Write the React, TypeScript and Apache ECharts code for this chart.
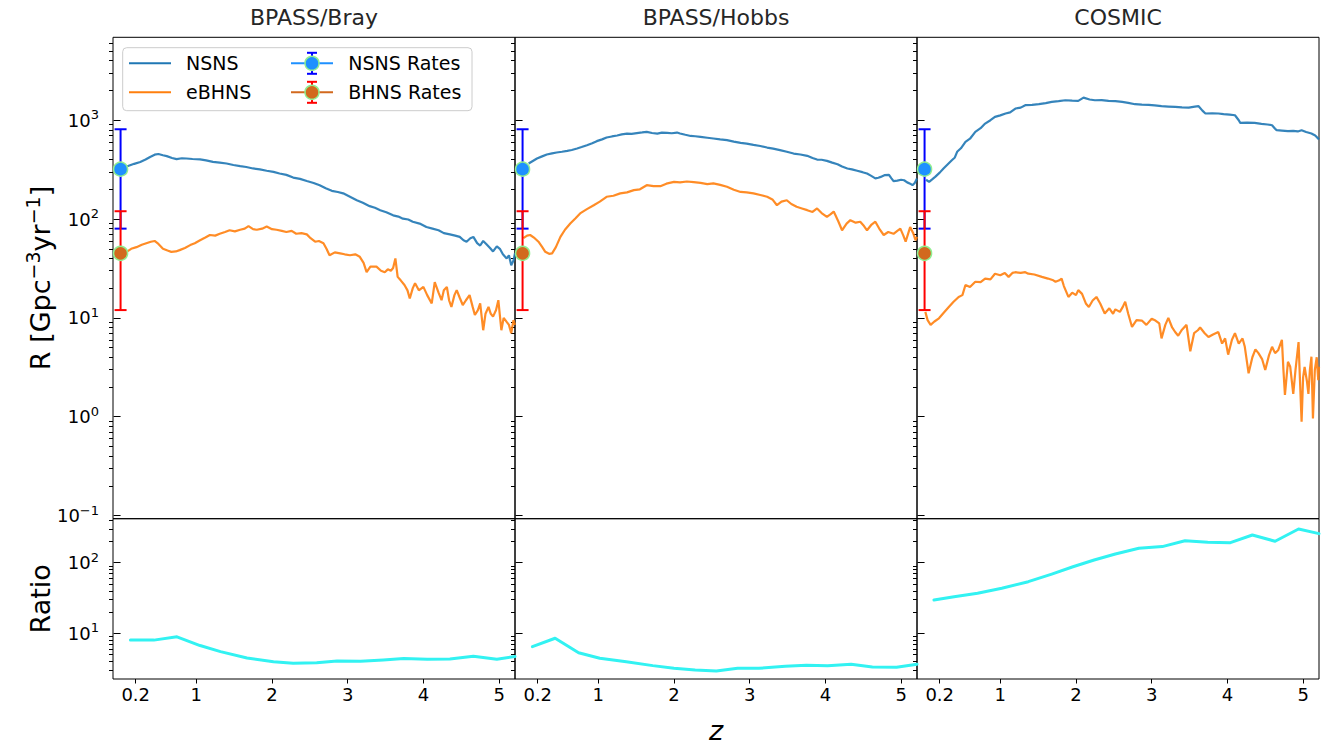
import React, { useEffect, useRef } from 'react';
import * as echarts from 'echarts';

// ---------- axis settings / tick labels ----------
const panelTitles = ['BPASS/Bray', 'BPASS/Hobbs', 'COSMIC'];
const Z_MIN = -0.1;
const Z_MAX = 5.21;
const RATE_MIN = 0.093;
const RATE_MAX = 6900;
const RATIO_MIN = 2.25;
const RATIO_MAX = 420;
const xTickValues = [0.2, 1, 2, 3, 4, 5];
const rateMajorTicks = [0.1, 1, 10, 100, 1000];
const rateMinorTicks = [0.2, 0.3, 0.4, 0.5, 0.6, 0.7, 0.8, 0.9, 2, 3, 4, 5, 6, 7, 8, 9, 20, 30, 40, 50, 60, 70, 80, 90, 200, 300, 400, 500, 600, 700, 800, 900, 2000, 3000, 4000, 5000, 6000];
const ratioMajorTicks = [10, 100];
const ratioMinorTicks = [3, 4, 5, 6, 7, 8, 9, 20, 30, 40, 50, 60, 70, 80, 90, 200, 300, 400];

// ---------- observed rates [z, value, low, high] ----------
const nsnsRate = [0, 320, 80, 810];
const bhnsRate = [0, 45, 12, 120];

// ---------- BPASS/Bray ----------
const brayNSNS: number[][] = [
  [0.08, 340], [0.18, 362], [0.26, 378], [0.33, 400], [0.39, 425], [0.45, 448], [0.50, 455], [0.56, 442], [0.61, 433],
  [0.68, 415], [0.74, 404], [0.81, 412], [0.87, 410], [0.95, 405], [1.05, 401], [1.13, 392], [1.22, 379], [1.31, 373],
  [1.40, 365], [1.49, 352], [1.58, 343], [1.66, 336], [1.75, 325], [1.84, 318], [1.93, 308], [2.02, 300], [2.10, 289],
  [2.19, 280], [2.28, 263], [2.37, 255], [2.46, 243], [2.55, 232], [2.63, 220], [2.71, 205], [2.79, 193], [2.87, 188],
  [2.94, 182], [3.03, 168], [3.12, 155], [3.20, 146], [3.29, 135], [3.36, 130], [3.43, 123], [3.51, 117], [3.60, 109],
  [3.67, 106], [3.73, 101], [3.80, 99], [3.86, 94], [3.95, 90], [4.04, 83], [4.12, 80], [4.20, 77], [4.27, 72],
  [4.35, 70], [4.42, 68], [4.48, 66], [4.53, 61], [4.57, 59], [4.62, 64], [4.66, 66], [4.71, 57], [4.75, 54],
  [4.79, 60], [4.83, 56], [4.88, 51], [4.92, 47], [4.97, 53], [5.01, 50], [5.05, 44], [5.10, 40], [5.13, 43],
  [5.16, 34], [5.19, 38], [5.21, 45],
];
const brayBHNS: number[][] = [
  [0.08, 46.6], [0.14, 50], [0.21, 52], [0.28, 55], [0.34, 57], [0.40, 59], [0.45, 60], [0.50, 56], [0.56, 50],
  [0.62, 48], [0.67, 46.6], [0.73, 47], [0.78, 48.5], [0.85, 51], [0.92, 54.5], [0.98, 57], [1.05, 61], [1.12, 65],
  [1.18, 69], [1.25, 68], [1.31, 71], [1.38, 74], [1.44, 77], [1.51, 75], [1.58, 78], [1.64, 80], [1.69, 85],
  [1.75, 79], [1.80, 78], [1.87, 80], [1.93, 84], [2.00, 79], [2.06, 78], [2.13, 76], [2.19, 74], [2.26, 76],
  [2.32, 71], [2.39, 72], [2.46, 70], [2.51, 64], [2.57, 59], [2.62, 60], [2.68, 57], [2.72, 50], [2.76, 43],
  [2.83, 46], [2.90, 45], [2.96, 44], [3.03, 43], [3.10, 44], [3.16, 41.5], [3.21, 36], [3.25, 29], [3.30, 33],
  [3.38, 33], [3.44, 30], [3.49, 29], [3.53, 31], [3.57, 30], [3.60, 32], [3.63, 40], [3.66, 26], [3.70, 24],
  [3.75, 21.5], [3.79, 19], [3.82, 15.7], [3.86, 20], [3.89, 22.4], [3.94, 19], [4.00, 20.6], [4.05, 17], [4.11, 14],
  [4.15, 23], [4.20, 18], [4.24, 15.1], [4.27, 19], [4.31, 20.6], [4.34, 15], [4.37, 12.9], [4.41, 17], [4.44, 19.1],
  [4.48, 16], [4.52, 13.5], [4.56, 15], [4.61, 17], [4.65, 13], [4.68, 10.7], [4.72, 12], [4.75, 14], [4.79, 7.5],
  [4.82, 11], [4.86, 12.9], [4.89, 11], [4.92, 10.3], [4.96, 12], [4.99, 15.1], [5.03, 7.5], [5.06, 10], [5.10, 9.1],
  [5.13, 8.5], [5.16, 7], [5.19, 9.5], [5.21, 8.5],
];
const brayRatio: number[][] = [
  [0.13, 8.0], [0.44, 8.0], [0.745, 8.9], [1.05, 6.7], [1.32, 5.5], [1.67, 4.47], [2.02, 3.96], [2.28, 3.76],
  [2.59, 3.83], [2.86, 4.05], [3.17, 4.0], [3.47, 4.19], [3.74, 4.38], [4.05, 4.29], [4.35, 4.33], [4.66, 4.72],
  [4.97, 4.29], [5.21, 4.7],
];

// ---------- BPASS/Hobbs ----------
const hobbsNSNS: number[][] = [
  [0.08, 365], [0.13, 385], [0.19, 410], [0.25, 428], [0.32, 450], [0.39, 462], [0.45, 471], [0.52, 480], [0.59, 490],
  [0.65, 500], [0.72, 517], [0.78, 535], [0.85, 559], [0.92, 585], [0.98, 614], [1.05, 640], [1.11, 668], [1.18, 685],
  [1.25, 700], [1.31, 718], [1.38, 733], [1.44, 728], [1.51, 740], [1.58, 752], [1.64, 763], [1.71, 742], [1.78, 733],
  [1.84, 748], [1.91, 745], [1.97, 738], [2.04, 750], [2.08, 733], [2.15, 712], [2.22, 693], [2.28, 688], [2.35, 678],
  [2.44, 665], [2.52, 653], [2.61, 640], [2.70, 628], [2.79, 608], [2.88, 590], [2.96, 580], [3.05, 563], [3.14, 548],
  [3.23, 529], [3.31, 515], [3.40, 498], [3.49, 480], [3.58, 460], [3.67, 450], [3.76, 436], [3.83, 415], [3.89, 400],
  [3.95, 398], [4.02, 388], [4.09, 372], [4.16, 359], [4.22, 340], [4.29, 325], [4.35, 318], [4.42, 308], [4.49, 298],
  [4.55, 289], [4.60, 275], [4.66, 258], [4.70, 262], [4.73, 267], [4.78, 278], [4.84, 280], [4.87, 260], [4.90, 242],
  [4.95, 245], [5.00, 250], [5.04, 247], [5.08, 235], [5.12, 228], [5.15, 220], [5.18, 232], [5.21, 257],
];
const hobbsBHNS: number[][] = [
  [0.01, 64], [0.06, 68], [0.10, 69], [0.16, 64], [0.21, 59], [0.26, 52], [0.30, 46.6], [0.35, 44.5], [0.39, 45],
  [0.44, 52], [0.50, 66], [0.56, 78], [0.63, 90], [0.70, 102], [0.76, 114], [0.85, 126], [0.94, 138], [1.02, 150],
  [1.11, 168], [1.20, 172], [1.29, 182], [1.38, 186], [1.47, 196], [1.55, 200], [1.64, 220], [1.73, 215], [1.82, 215],
  [1.90, 228], [2.00, 238], [2.08, 235], [2.17, 240], [2.26, 236], [2.35, 232], [2.44, 226], [2.52, 230], [2.61, 222],
  [2.70, 212], [2.79, 198], [2.88, 188], [2.96, 186], [3.05, 182], [3.14, 175], [3.23, 168], [3.30, 158], [3.36, 138],
  [3.42, 150], [3.49, 155], [3.55, 142], [3.62, 133], [3.69, 128], [3.76, 123], [3.83, 118], [3.89, 128], [3.95, 115],
  [4.02, 105], [4.07, 112], [4.11, 119], [4.17, 95], [4.22, 77], [4.28, 90], [4.33, 97.5], [4.40, 92], [4.46, 94],
  [4.51, 85], [4.55, 77], [4.61, 88], [4.66, 94], [4.72, 78], [4.77, 69], [4.83, 74], [4.90, 71], [4.95, 76],
  [4.99, 80], [5.03, 68], [5.06, 59], [5.09, 70], [5.12, 83], [5.16, 72], [5.19, 61], [5.21, 66],
];
const hobbsRatio: number[][] = [
  [0.13, 6.46], [0.43, 8.5], [0.74, 5.3], [1.02, 4.43], [1.37, 3.96], [1.72, 3.48], [2.0, 3.19], [2.28, 3.02],
  [2.56, 2.92], [2.84, 3.19], [3.12, 3.19], [3.47, 3.41], [3.75, 3.52], [4.03, 3.48], [4.34, 3.64], [4.62, 3.33],
  [4.94, 3.3], [5.21, 3.65],
];

// ---------- COSMIC ----------
const cosmicNSNS: number[][] = [
  [0.02, 250], [0.06, 238], [0.10, 252], [0.14, 267], [0.20, 295], [0.25, 325], [0.30, 355], [0.36, 394], [0.40, 420],
  [0.43, 479], [0.48, 520], [0.54, 604], [0.60, 650], [0.67, 763], [0.74, 830], [0.80, 925], [0.87, 1000], [0.93, 1081],
  [1.00, 1120], [1.07, 1169], [1.13, 1200], [1.20, 1313], [1.27, 1340], [1.33, 1418], [1.42, 1430], [1.51, 1452],
  [1.60, 1490], [1.68, 1531], [1.77, 1560], [1.86, 1592], [1.95, 1580], [2.03, 1570], [2.10, 1694], [2.18, 1620],
  [2.25, 1592], [2.34, 1600], [2.43, 1570], [2.52, 1560], [2.61, 1531], [2.69, 1500], [2.78, 1452], [2.87, 1440],
  [2.96, 1430], [3.04, 1410], [3.13, 1386], [3.22, 1375], [3.31, 1364], [3.40, 1350], [3.49, 1343], [3.57, 1370],
  [3.62, 1386], [3.67, 1250], [3.71, 1169], [3.80, 1175], [3.88, 1169], [3.95, 1150], [4.03, 1140], [4.10, 1123],
  [4.15, 1000], [4.17, 940], [4.26, 945], [4.36, 940], [4.45, 920], [4.53, 905], [4.59, 890], [4.63, 820], [4.65, 793],
  [4.72, 785], [4.80, 774], [4.87, 780], [4.93, 770], [4.98, 793], [5.04, 760], [5.11, 733], [5.16, 700], [5.21, 640],
];
const cosmicBHNS: number[][] = [
  [0.01, 11.5], [0.04, 9.5], [0.08, 8.5], [0.13, 9.2], [0.19, 9.9], [0.25, 11.2], [0.32, 12.9], [0.38, 14.5], [0.45, 16.3],
  [0.50, 17], [0.54, 21.5], [0.60, 20.5], [0.67, 23.2], [0.74, 23], [0.80, 25], [0.87, 24.5], [0.93, 28], [1.00, 27],
  [1.06, 28.5], [1.11, 26], [1.16, 28.5], [1.20, 29], [1.27, 28.5], [1.33, 29], [1.37, 28], [1.45, 27.5], [1.55, 26],
  [1.63, 25], [1.70, 24], [1.73, 23.2], [1.78, 24], [1.81, 25], [1.84, 21], [1.90, 16.3], [1.95, 18], [2.00, 17],
  [2.03, 19.1], [2.08, 17.5], [2.13, 14], [2.17, 12.9], [2.22, 15], [2.27, 16.3], [2.32, 14], [2.38, 11.1], [2.44, 12.5],
  [2.49, 11], [2.52, 12.2], [2.58, 11.5], [2.62, 13], [2.65, 14.6], [2.69, 11], [2.74, 8.1], [2.80, 9.5], [2.87, 9.4],
  [2.93, 8.5], [3.00, 9.8], [3.05, 9.4], [3.10, 8.8], [3.13, 6.2], [3.18, 8.5], [3.22, 10], [3.27, 8], [3.31, 7.2],
  [3.35, 6.6], [3.40, 7.6], [3.46, 8.5], [3.51, 4.6], [3.56, 7], [3.61, 7.5], [3.64, 8], [3.70, 7], [3.75, 6.4],
  [3.81, 6.8], [3.88, 7.2], [3.93, 5.5], [3.97, 6.2], [4.01, 4.25], [4.06, 6], [4.10, 7], [4.15, 5.5], [4.20, 6.2],
  [4.23, 5.1], [4.28, 2.75], [4.33, 4], [4.37, 4.8], [4.41, 4.4], [4.46, 3.8], [4.50, 2.97], [4.55, 4.2], [4.59, 5.1],
  [4.63, 4.4], [4.67, 4.7], [4.72, 6], [4.74, 3], [4.76, 1.66], [4.80, 3.6], [4.83, 3.2], [4.87, 1.7], [4.90, 3],
  [4.94, 5.7], [4.96, 2.2], [4.98, 0.89], [5.00, 2.5], [5.02, 3.2], [5.05, 2.3], [5.07, 1.7], [5.09, 3], [5.11, 4.05],
  [5.13, 0.96], [5.155, 2.97], [5.18, 4], [5.20, 2.35], [5.21, 3.2],
];
const cosmicRatio: number[][] = [
  [0.124, 29.6], [0.39, 33], [0.70, 36.8], [1.02, 43.4], [1.37, 53.8], [1.68, 69], [1.96, 87.7], [2.24, 109],
  [2.52, 133], [2.83, 160], [3.14, 169], [3.44, 205], [3.74, 195], [4.04, 192], [4.33, 247], [4.63, 201],
  [4.94, 300], [5.21, 258],
];

const panelNSNS = [brayNSNS, hobbsNSNS, cosmicNSNS];
const panelBHNS = [brayBHNS, hobbsBHNS, cosmicBHNS];
const panelRatio = [brayRatio, hobbsRatio, cosmicRatio];

// ---------- styling ----------
const FONT = '"DejaVu Sans", "Liberation Sans", sans-serif';
const C_NSNS = '#1f77b4';
const C_BHNS = '#ff7f0e';
const C_RATIO = 'rgb(50,242,242)';
const C_NSNS_MARK = '#1e90ff';
const C_BHNS_MARK = '#d2691e';
const C_EDGE = '#90ee90';

const LEFTS = [113, 515, 917];
const PANEL_W = 402;
const TOP = 37.3;
const MID = 518.7;
const BOT = 679;

const MINUS = '\u2212';
const powLabel = (v: number) => {
  const e = Math.round(Math.log10(v));
  return '{b|10}{s|' + String(e).replace('-', MINUS) + '}';
};
const tickRich = {
  b: { fontSize: 18, fontFamily: FONT, color: '#000', lineHeight: 24 },
  s: { fontSize: 13, fontFamily: FONT, color: '#000', verticalAlign: 'top', lineHeight: 15 },
};

function majorY(gridIndex: number, min: number, max: number, ticks: number[], labels: boolean) {
  return {
    type: 'log', logBase: 10, gridIndex, min, max, position: 'left',
    axisLine: { show: false },
    splitLine: { show: false },
    minorTick: { show: false },
    axisTick: { show: true, customValues: ticks, length: 7, lineStyle: { color: '#000', width: 1 } },
    axisLabel: {
      show: labels, customValues: ticks, formatter: powLabel, rich: tickRich,
      fontSize: 18, color: '#000', fontFamily: FONT, margin: 14,
    },
  };
}
function minorY(gridIndex: number, min: number, max: number, ticks: number[]) {
  return {
    type: 'log', logBase: 10, gridIndex, min, max, position: 'left',
    axisLine: { show: false },
    splitLine: { show: false },
    minorTick: { show: false },
    axisTick: { show: true, customValues: ticks, length: 4, lineStyle: { color: '#000', width: 1 } },
    axisLabel: { show: false },
  };
}

function errorBarSeries(xAxisIndex: number, yAxisIndex: number, rate: number[], color: string) {
  return {
    type: 'custom', xAxisIndex, yAxisIndex, clip: false, z: 3,
    data: [rate],
    renderItem: (_params: any, api: any) => {
      const x = api.value(0);
      const lo = api.coord([x, api.value(2)]);
      const hi = api.coord([x, api.value(3)]);
      const cap = 6;
      const st = { stroke: color, lineWidth: 2 };
      return {
        type: 'group',
        children: [
          { type: 'line', shape: { x1: lo[0], y1: lo[1], x2: hi[0], y2: hi[1] }, style: st },
          { type: 'line', shape: { x1: lo[0] - cap, y1: lo[1], x2: lo[0] + cap, y2: lo[1] }, style: st },
          { type: 'line', shape: { x1: hi[0] - cap, y1: hi[1], x2: hi[0] + cap, y2: hi[1] }, style: st },
        ],
      };
    },
  };
}

function markerSeries(xAxisIndex: number, yAxisIndex: number, rate: number[], color: string) {
  return {
    type: 'scatter', xAxisIndex, yAxisIndex, clip: false, z: 4,
    symbol: 'circle', symbolSize: 14,
    itemStyle: { color, borderColor: C_EDGE, borderWidth: 1.5, opacity: 1 },
    data: [[rate[0], rate[1]]],
  };
}

function buildOption() {
  const grid: any[] = [];
  const xAxis: any[] = [];
  const yAxis: any[] = [];
  const series: any[] = [];

  for (let p = 0; p < 3; p++) {
    const left = LEFTS[p];
    const gTop = 2 * p;
    const gBot = 2 * p + 1;
    const gridBase = { left, width: PANEL_W, show: true, borderColor: '#000', borderWidth: 1, backgroundColor: 'transparent', containLabel: false, outerBoundsMode: 'none' };
    grid.push({ ...gridBase, top: TOP, height: MID - TOP });
    grid.push({ ...gridBase, top: MID, height: BOT - MID });

    xAxis.push({
      type: 'value', gridIndex: gTop, min: Z_MIN, max: Z_MAX,
      axisLine: { show: false }, axisTick: { show: false }, axisLabel: { show: false }, splitLine: { show: false },
    });
    xAxis.push({
      type: 'value', gridIndex: gBot, min: Z_MIN, max: Z_MAX,
      axisLine: { show: false }, splitLine: { show: false },
      axisTick: { show: true, customValues: xTickValues, length: 4.5, lineStyle: { color: '#000', width: 1 } },
      axisLabel: {
        show: true, customValues: xTickValues, formatter: (v: number) => String(v),
        fontSize: 18, color: '#000', fontFamily: FONT, margin: 6,
      },
    });

    const yTopMajor = yAxis.length;
    yAxis.push(majorY(gTop, RATE_MIN, RATE_MAX, rateMajorTicks, p === 0));
    yAxis.push(minorY(gTop, RATE_MIN, RATE_MAX, rateMinorTicks));
    const yBotMajor = yAxis.length;
    yAxis.push(majorY(gBot, RATIO_MIN, RATIO_MAX, ratioMajorTicks, p === 0));
    yAxis.push(minorY(gBot, RATIO_MIN, RATIO_MAX, ratioMinorTicks));

    series.push({
      type: 'line', name: 'NSNS', xAxisIndex: gTop, yAxisIndex: yTopMajor, data: panelNSNS[p],
      showSymbol: false, symbol: 'none', clip: true, z: 2,
      lineStyle: { color: C_NSNS, width: 2.2, opacity: 0.9 },
    });
    series.push({
      type: 'line', name: 'eBHNS', xAxisIndex: gTop, yAxisIndex: yTopMajor, data: panelBHNS[p],
      showSymbol: false, symbol: 'none', clip: true, z: 2,
      lineStyle: { color: C_BHNS, width: 2.2, opacity: 0.9 },
    });
    series.push(errorBarSeries(gTop, yTopMajor, nsnsRate, '#0000ff'));
    series.push(errorBarSeries(gTop, yTopMajor, bhnsRate, '#ff0000'));
    series.push(markerSeries(gTop, yTopMajor, nsnsRate, C_NSNS_MARK));
    series.push(markerSeries(gTop, yTopMajor, bhnsRate, C_BHNS_MARK));
    series.push({
      type: 'line', name: 'Ratio', xAxisIndex: gBot, yAxisIndex: yBotMajor, data: panelRatio[p],
      showSymbol: false, symbol: 'none', clip: true, z: 2,
      lineStyle: { color: C_RATIO, width: 3, cap: 'round', join: 'round' },
    });
  }

  const graphic: any[] = [];
  // Titles
  panelTitles.forEach((t, p) => {
    graphic.push({
      type: 'text', x: LEFTS[p] + PANEL_W / 2, y: 17, z: 100,
      style: { text: t, fontSize: 22, fontFamily: FONT, fill: '#262626', align: 'center', verticalAlign: 'middle' },
    });
  });
  // Axis names
  graphic.push({
    type: 'text', x: 40, y: (TOP + MID) / 2, rotation: Math.PI / 2, z: 100,
    style: {
      text: '{a|R [Gpc}{s|' + MINUS + '3}{a|yr}{s|' + MINUS + '1}{a|]}',
      fill: '#000', align: 'center', verticalAlign: 'middle',
      rich: {
        a: { fontSize: 27, fontFamily: FONT, fill: '#000', lineHeight: 34 },
        s: { fontSize: 19, fontFamily: FONT, fill: '#000', verticalAlign: 'top', lineHeight: 22 },
      },
    },
  });
  graphic.push({
    type: 'text', x: 40, y: (MID + BOT) / 2, rotation: Math.PI / 2, z: 100,
    style: { text: 'Ratio', fontSize: 27, fontFamily: FONT, fill: '#000', align: 'center', verticalAlign: 'middle' },
  });
  graphic.push({
    type: 'text', x: 716, y: 730, z: 100,
    style: { text: 'z', fontSize: 27, fontStyle: 'italic', fontFamily: FONT, fill: '#000', align: 'center', verticalAlign: 'middle' },
  });

  // Legend
  const lx = 122.7, ly = 47.7;
  graphic.push({
    type: 'rect', z: 100,
    shape: { x: lx, y: ly, width: 349.3, height: 63, r: 4 },
    style: { fill: 'rgba(255,255,255,0.8)', stroke: '#cccccc', lineWidth: 1 },
  });
  const rows = [63.3, 92.3];
  const lineEntries = [
    { label: 'NSNS', color: C_NSNS },
    { label: 'eBHNS', color: C_BHNS },
  ];
  lineEntries.forEach((e, i) => {
    graphic.push({ type: 'line', z: 101, shape: { x1: 129, y1: rows[i], x2: 171, y2: rows[i] }, style: { stroke: e.color, lineWidth: 2 } });
    graphic.push({ type: 'text', x: 186, y: rows[i], z: 101, style: { text: e.label, fontSize: 19, fontFamily: FONT, fill: '#000', align: 'left', verticalAlign: 'middle' } });
  });
  const rateEntries = [
    { label: 'NSNS Rates', line: C_NSNS_MARK, err: '#0000ff' },
    { label: 'BHNS Rates', line: C_BHNS_MARK, err: '#ff0000' },
  ];
  rateEntries.forEach((e, i) => {
    const cy = rows[i];
    const cx = 312;
    graphic.push({ type: 'line', z: 101, shape: { x1: 291, y1: cy, x2: 333, y2: cy }, style: { stroke: e.line, lineWidth: 2 } });
    graphic.push({ type: 'line', z: 101, shape: { x1: cx, y1: cy - 10.5, x2: cx, y2: cy + 10.5 }, style: { stroke: e.err, lineWidth: 2 } });
    graphic.push({ type: 'line', z: 101, shape: { x1: cx - 5, y1: cy - 10.5, x2: cx + 5, y2: cy - 10.5 }, style: { stroke: e.err, lineWidth: 2 } });
    graphic.push({ type: 'line', z: 101, shape: { x1: cx - 5, y1: cy + 10.5, x2: cx + 5, y2: cy + 10.5 }, style: { stroke: e.err, lineWidth: 2 } });
    graphic.push({ type: 'circle', z: 102, shape: { cx, cy, r: 7 }, style: { fill: e.line, stroke: C_EDGE, lineWidth: 1.5 } });
    graphic.push({ type: 'text', x: 348.3, y: cy, z: 101, style: { text: e.label, fontSize: 19, fontFamily: FONT, fill: '#000', align: 'left', verticalAlign: 'middle' } });
  });

  return {
    animation: false,
    backgroundColor: '#ffffff',
    textStyle: { fontFamily: FONT },
    grid, xAxis, yAxis, series, graphic,
  };
}

export default function App() {
  const ref = useRef<HTMLDivElement>(null);
  useEffect(() => {
    if (!ref.current) return;
    const chart = echarts.init(ref.current, null, { renderer: 'svg' });
    chart.setOption(buildOption() as any);
    return () => chart.dispose();
  }, []);
  return (
    <div
      ref={ref}
      style={{ position: 'absolute', left: 0, top: 0, width: 1330, height: 745, background: '#fff' }}
    />
  );
}
